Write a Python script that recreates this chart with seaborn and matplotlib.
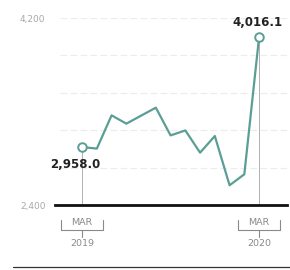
import matplotlib
matplotlib.use("Agg")
import matplotlib.pyplot as plt
import matplotlib.transforms as mtransforms
import pandas as pd
import seaborn as sns

months = ["Mar 2019", "Apr 2019", "May 2019", "Jun 2019", "Jul 2019", "Aug 2019",
          "Sep 2019", "Oct 2019", "Nov 2019", "Dec 2019", "Jan 2020", "Feb 2020", "Mar 2020"]
values = [2958.0, 2943, 3263, 3183, 3260, 3337, 3070, 3118, 2904, 3064, 2590, 2696, 4016.1]
y_ticks = [2400, 4200]
y_tick_labels = ["2,400", "4,200"]
grid_levels = [2760, 3120, 3480, 3840, 4200]
end_labels = [("MAR", "2019"), ("MAR", "2020")]

df = pd.DataFrame({"pos": range(len(months)), "month": months, "value": values})

sns.set_style("white")
plt.rcParams["font.family"] = ["DejaVu Sans"]

fig = plt.figure(figsize=(2.9, 2.7), dpi=100)
ax = fig.add_axes([0.19, 0.2407, 0.80, 0.6926])

teal = "#5b9e96"
first, last = 0, len(values) - 1

# faint dashed grid
for g in grid_levels:
    ax.axhline(g, color="#ececec", lw=0.8, ls=(0, (6, 3)), zorder=0, xmin=0.02)

# thin verticals at endpoints
for i in (first, last):
    ax.plot([i, i], [2400, values[i]], color="#b0b0b0", lw=0.7, zorder=1)

sns.lineplot(data=df, x="pos", y="value", color=teal, lw=1.6, ax=ax, zorder=3)
ends = df.iloc[[first, last]]
sns.scatterplot(data=ends, x="pos", y="value", s=38, color="white",
                edgecolor=teal, linewidth=1.4, ax=ax, zorder=4)

ax.annotate(f"{values[first]:,.1f}", (first, values[first]), xytext=(-5, -8),
            textcoords="offset points", ha="center", va="top",
            fontsize=8.5, fontweight="bold", color="#222222")
ax.annotate(f"{values[last]:,.1f}", (last, values[last]), xytext=(-1, 6),
            textcoords="offset points", ha="center", va="bottom",
            fontsize=8.5, fontweight="bold", color="#222222")

ax.set_xlim(-1.83, 13.9)
ax.set_ylim(2400, 4200)
ax.set_yticks(y_ticks)
ax.set_yticklabels(y_tick_labels)
ax.set_xticks([])
ax.tick_params(axis="y", length=0, pad=7, labelsize=6.5, labelcolor="#a8a8a8")
ax.set_xlabel("")
ax.set_ylabel("")
for s in ["top", "right", "left"]:
    ax.spines[s].set_visible(False)
ax.spines["bottom"].set_linewidth(2)
ax.spines["bottom"].set_color("#111111")

# month labels with brackets under the axis
trans = mtransforms.blended_transform_factory(ax.transData, ax.transAxes)
for i, (m, yr) in zip((first, last), end_labels):
    ax.text(i, -0.095, m, transform=trans, ha="center", va="center",
            fontsize=6.8, color="#8a8a8a")
    hw = 1.45
    ax.plot([i - hw, i - hw, i + hw, i + hw], [-0.08, -0.134, -0.134, -0.08],
            transform=trans, color="#8a8a8a", lw=0.8, clip_on=False)
    ax.plot([i, i], [-0.134, -0.17], transform=trans, color="#8a8a8a",
            lw=0.8, clip_on=False)
    ax.text(i, -0.205, yr, transform=trans, ha="center", va="center",
            fontsize=6.8, color="#8a8a8a")

fig.add_artist(plt.Line2D([0.045, 1.0], [0.01, 0.01], color="#333333", lw=0.9))

fig.savefig("out.png", dpi=100, facecolor="white")
